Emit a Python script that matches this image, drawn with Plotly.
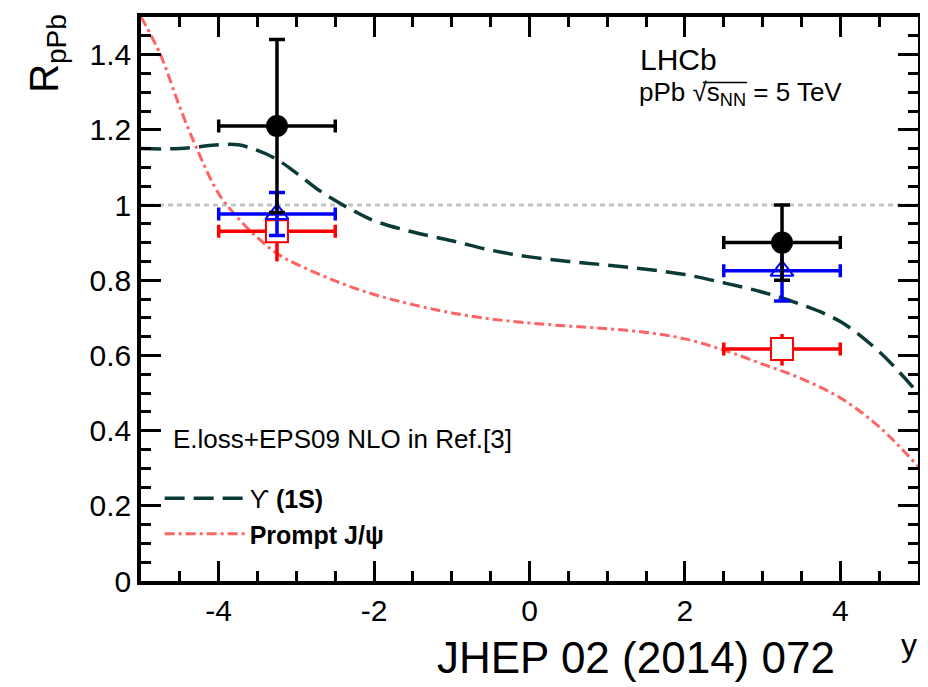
import plotly.graph_objects as go

# ---------------- data ----------------
bins_center = [-3.25, 3.25]
bins_halfwidth = [0.75, 0.75]

# Upsilon(1S) data (black circles)
ups_y = [1.21, 0.90]
ups_err = [0.23, 0.10]
# blue triangles
tri_y = [0.976, 0.825]
tri_err = [0.057, 0.08]
# red squares
sq_y = [0.93, 0.617]
sq_err_plus = [0.04, 0.04]
sq_err_minus = [0.08, 0.044]

# theory: Upsilon(1S) E.loss+EPS09 NLO
th_x = [-5.0, -4.5, -4.0, -3.75, -3.5, -3.25, -3.0, -2.75, -2.5, -2.25, -2.0,
        -1.5, -1.0, -0.5, 0.0, 0.5, 1.0, 1.5, 2.0, 2.5, 3.0, 3.5, 4.0, 4.5, 5.0]
ups_th = [1.150, 1.150, 1.160, 1.160, 1.145, 1.121, 1.085, 1.045, 1.012, 0.983, 0.958,
          0.928, 0.905, 0.880, 0.862, 0.850, 0.840, 0.829, 0.815, 0.793, 0.768, 0.735,
          0.690, 0.610, 0.500]
# theory: prompt J/psi
jpsi_x = [-5.0, -4.75, -4.5, -4.25, -4.0, -3.75, -3.5, -3.25, -3.0, -2.5, -2.0,
          -1.5, -1.0, -0.5, 0.0, 0.5, 1.0, 1.5, 2.0, 2.5, 3.0, 3.5, 4.0, 4.5, 5.0]
jpsi_th = [1.50, 1.40, 1.26, 1.135, 1.03, 0.965, 0.913, 0.871, 0.843, 0.798, 0.762,
           0.735, 0.713, 0.697, 0.686, 0.678, 0.671, 0.661, 0.644, 0.614, 0.577, 0.538,
           0.487, 0.410, 0.305]

x_tickvals = [-4, -2, 0, 2, 4]
x_ticktext = ["-4", "-2", "0", "2", "4"]
y_tickvals = [0, 0.2, 0.4, 0.6, 0.8, 1.0, 1.2, 1.4]
y_ticktext = ["0", "0.2", "0.4", "0.6", "0.8", "1", "1.2", "1.4"]

FONT = "Liberation Sans, Arial, Helvetica, sans-serif"
TEAL = "#0b3b38"
SALMON = "#ff6464"

fig = go.Figure()

fig.add_shape(type="line", xref="paper", x0=0, x1=1, yref="y", y0=1, y1=1,
              line=dict(color="#c4c4c4", width=3, dash="5px,4px"), layer="below")
# overline of the square root over s_NN
fig.add_shape(type="line", xref="paper", yref="paper", x0=0.723, x1=0.780, y0=0.884, y1=0.884,
              line=dict(color="black", width=1.5))

fig.add_trace(go.Scatter(x=th_x, y=ups_th, mode="lines", line_shape="spline",
                         line=dict(color=TEAL, width=3.5, dash="20px,9px"),
                         name="ϒ <b>(1S)</b>"))
fig.add_trace(go.Scatter(x=jpsi_x, y=jpsi_th, mode="lines", line_shape="spline",
                         line=dict(color=SALMON, width=3, dash="10px,4px,3px,4px"),
                         name="<b>Prompt J/ψ</b>"))

# red squares
fig.add_trace(go.Scatter(x=bins_center, y=sq_y, mode="markers", showlegend=False,
                         marker=dict(symbol="square", size=22, color="white",
                                     line=dict(color="red", width=2)),
                         error_x=dict(type="data", array=bins_halfwidth, color="red",
                                      thickness=3.5, width=6.5),
                         error_y=dict(type="data", symmetric=False, array=sq_err_plus,
                                      arrayminus=sq_err_minus, color="red",
                                      thickness=3.5, width=0)))
# blue triangles
fig.add_trace(go.Scatter(x=bins_center, y=tri_y, mode="markers", showlegend=False,
                         marker=dict(symbol="triangle-up-open", size=20, color="blue",
                                     line=dict(color="blue", width=2)),
                         error_x=dict(type="data", array=bins_halfwidth, color="blue",
                                      thickness=3.5, width=6.5),
                         error_y=dict(type="data", array=tri_err, color="blue",
                                      thickness=3.5, width=8)))
# black circles
fig.add_trace(go.Scatter(x=bins_center, y=ups_y, mode="markers", showlegend=False,
                         marker=dict(symbol="circle", size=22, color="black"),
                         error_x=dict(type="data", array=bins_halfwidth, color="black",
                                      thickness=3.5, width=6.5),
                         error_y=dict(type="data", array=ups_err, color="black",
                                      thickness=3.5, width=8)))

axis_common = dict(showline=True, linecolor="black", linewidth=3.5, mirror="allticks",
                   ticks="inside", ticklen=20, tickwidth=3, tickcolor="black",
                   showgrid=False, zeroline=False,
                   tickfont=dict(family=FONT, size=30, color="black"))

fig.update_xaxes(range=[-5, 5], tickmode="array", tickvals=x_tickvals, ticktext=x_ticktext,
                 minor=dict(dtick=0.5, tick0=0, ticklen=10, tickwidth=3, tickcolor="black",
                            ticks="inside", showgrid=False),
                 **axis_common)
fig.update_yaxes(range=[0, 1.5], tickmode="array", tickvals=y_tickvals, ticktext=y_ticktext,
                 minor=dict(dtick=0.05, tick0=0, ticklen=10, tickwidth=3, tickcolor="black",
                            ticks="inside", showgrid=False),
                 **axis_common)

def ann(text, x, y, size, xanchor="center", yanchor="middle", angle=0):
    return dict(text=text, xref="paper", yref="paper", x=x, y=y, textangle=angle,
                xanchor=xanchor, yanchor=yanchor, showarrow=False,
                font=dict(family=FONT, size=size, color="black"))

annotations = [
    ann("R<sub>pPb</sub>", -0.122, 0.935, 40, angle=-90),
    ann("y", 0.988, -0.113, 32),
    ann("JHEP 02 (2014) 072", 0.637, -0.136, 44),
    ann("LHCb", 0.640, 0.924, 30, xanchor="left"),
    ann("pPb √s<sub>NN</sub> = 5 TeV", 0.638, 0.865, 26, xanchor="left"),
    ann("E.loss+EPS09 NLO in Ref.[3]", 0.038, 0.252, 26, xanchor="left"),
]

# page body has an 8px default margin: margins are shifted to compensate
fig.update_layout(
    width=928, height=687,
    margin=dict(l=133, r=18, t=5, b=114),
    paper_bgcolor="white", plot_bgcolor="white",
    font=dict(family=FONT, color="black"),
    annotations=annotations,
    showlegend=True,
    legend=dict(x=0.024, y=0.187, xanchor="left", yanchor="top",
                bgcolor="rgba(0,0,0,0)", itemwidth=80,
                font=dict(family=FONT, size=25, color="black"),
                tracegroupgap=0),
)

fig.write_html("out.html")
